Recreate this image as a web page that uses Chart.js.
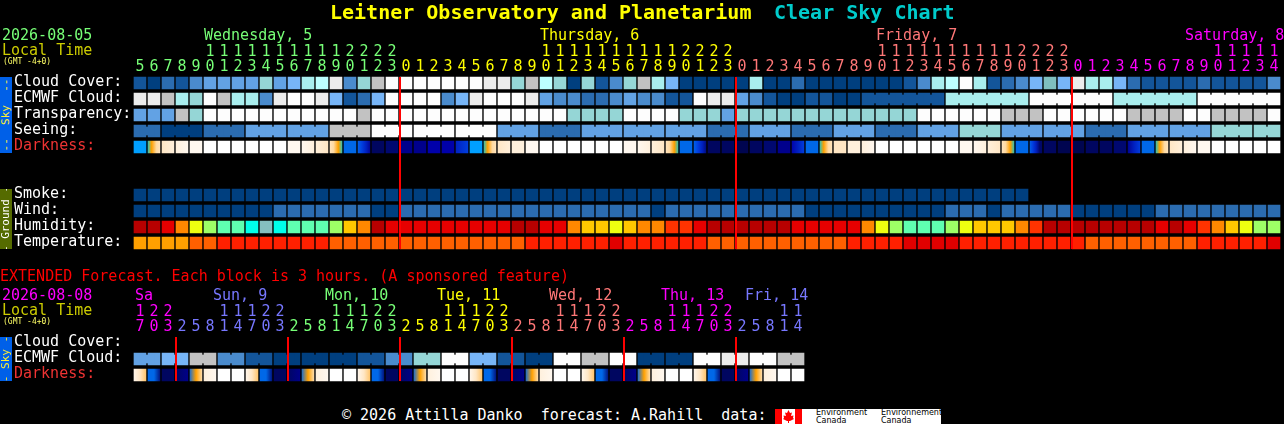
<!DOCTYPE html>
<html>
<head>
<meta charset="utf-8">
<title>Clear Sky Chart</title>
<script src="https://cdn.jsdelivr.net/npm/chart.js@4"></script>
<style>
  html, body { margin: 0; padding: 0; background: #000; overflow: hidden; }
  body { width: 1284px; height: 424px; position: relative; font-family: "DejaVu Sans Mono", monospace; }
  canvas { position: absolute; left: 0; }
  .txt { position: absolute; white-space: pre; font-size: 15px; line-height: 16px; z-index: 2; }
  .side { position: absolute; left: 0; width: 12px; z-index: 2; overflow: hidden; }
  .side span { position: absolute; left: 50%; top: 50%; transform: translate(-50%, -50%) rotate(-90deg); white-space: pre; font-size: 11px; line-height: 12px; }
  #logo { position: absolute; left: 775px; top: 409px; width: 166px; height: 15px; background: #fff; overflow: hidden; z-index: 2; }
  #logo svg { position: absolute; left: 0; top: 0; }
  #logo b { position: absolute; color: #000; font: 8px/7px "DejaVu Sans", sans-serif; white-space: pre; }
</style>
</head>
<body>
<canvas id="hourly" width="1284" height="256" style="top:0"></canvas>
<canvas id="extended" width="1284" height="128" style="top:260px"></canvas>
<div id="logo">
  <svg width="27" height="15"><rect width="7" height="15" fill="#f00"/><rect x="20" width="7" height="15" fill="#f00"/><polygon points="13.5,1 15,4 17,3.5 16,7 18.5,6.5 18,9 19,10 15,12 14,12 14,14 13,14 13,12 12,12 8,10 9,9 8.5,6.5 11,7 10,3.5 12,4" fill="#f00"/></svg>
  <b style="left:41px;top:0">Environment</b><b style="left:41px;top:8px">Canada</b>
  <b style="left:106px;top:0">Environnement</b><b style="left:106px;top:8px">Canada</b>
</div>
<script>
// hourly forecast
const hours = [5,6,7,8,9,10,11,12,13,14,15,16,17,18,19,20,21,22,23,
  0,1,2,3,4,5,6,7,8,9,10,11,12,13,14,15,16,17,18,19,20,21,22,23,
  0,1,2,3,4,5,6,7,8,9,10,11,12,13,14,15,16,17,18,19,20,21,22,23,
  0,1,2,3,4,5,6,7,8,9,10,11,12,13,14].slice(0, 82);
const hourlyRows = ["Cloud Cover:", "ECMWF Cloud:", "Transparency:", "Seeing:", "Darkness:", " ", "  ", "Smoke:", "Wind:", "Humidity:", "Temperature:"];

const cloudCover = [1,0,2,1,3,4,4,4,4,6,4,5,7,8,9,3,6,10,11,11,11,
  11,11,11,11,9,9,6,10,8,6,0,6,1,3,6,10,7,5,0,0,0,0,0,7,0,0,2,0,0,0,0,
  0,0,0,1,3,7,8,11,7,1,2,3,5,12,5,9,7,7,5,2,1,1,1,1,2,1,1,1,1,3];
const ecmwfCloud = [9,9,10,7,6,11,10,7,7,3,9,11,11,9,5,1,2,5,11,11,11,
  11,3,5,9,11,11,11,9,4,3,3,2,2,3,4,3,3,1,1,11,9,9,4,3,1,0,0,1,1,0,0,
  1,1,1,1,1,1,7,7,7,7,7,7,11,11,11,11,11,11,7,7,7,7,7,7,11,11,11,11,11,11];
const transparency = [4,4,4,10,6,11,11,11,11,11,11,11,11,11,11,11,10,11,11,11,11,
  11,11,11,11,11,11,11,11,11,11,6,6,6,6,11,11,11,11,6,6,6,4,6,6,6,6,6,6,6,6,6,
  6,6,6,6,11,11,11,11,11,11,10,10,10,11,11,11,11,11,11,10,10,10,10,11,11,10,10,10,10,11];
const seeing = [2,2,0,0,0,2,2,2,4,4,4,4,4,4,10,10,10,11,11,11,11,
  11,11,11,11,11,4,4,4,2,2,2,4,4,4,4,4,4,4,4,4,2,2,2,4,4,4,2,2,2,4,4,
  4,2,2,2,4,4,4,6,6,6,4,4,4,4,4,4,2,2,2,4,4,4,4,4,4,6,6,6,6,6];
// darkness: one ramp level for a flat block, a list of levels when the sky changes inside the block
const darkness = [8,[9,10,12,13],[13,14],[14,15],15,16,16,16,16,16,16,15,[15,14],[14,13],[13,12,10,9],7,[7,6,5,3],1,2,3,3,
  4,4,[5,6],8,[9,10,12,13],[13,14],14,15,16,16,16,16,16,16,15,[15,14],[14,13],[13,12,10,9],7,[7,6,5,2],1,1,0,1,2,3,[4,5,6],7,[9,10,12,13],13,14,
  [14,15],16,16,16,16,16,16,15,[15,14],[14,13],[13,12,10,9],7,[7,6,5,2,1],1,0,0,1,1,2,[3,5,6],7,[9,10,12,13],[13,14],[14,15],15,16,16,16,16,16];
const smoke = [0,0,0,0,0,0,0,0,0,0,0,0,0,0,0,0,0,0,0,0,0,0,0,0,0,0,0,0,0,0,0,0,
  0,0,0,0,0,0,0,0,0,0,0,0,0,0,0,0,0,0,0,0,0,0,0,0,0,0,0,0,0,0,0,0];
const wind = [0,0,0,0,0,0,0,0,0,0,2,2,2,2,2,2,2,0,0,2,2,
  2,2,2,2,2,2,2,2,2,2,2,2,2,2,2,2,0,2,2,2,2,2,2,2,2,2,2,0,0,0,0,
  0,0,0,0,0,0,2,2,2,0,2,2,2,2,2,0,0,0,0,0,0,2,2,2,2,2,2,2,2,2];
const humidity = [0,0,1,3,5,6,7,7,8,9,8,7,7,7,6,4,3,0,1,1,1,
  1,1,1,1,1,1,0,0,1,1,3,4,4,5,4,3,3,2,2,1,0,0,0,0,0,0,1,1,1,1,1,
  3,5,6,7,7,7,6,5,4,4,4,3,2,0,0,0,0,0,0,0,0,1,0,1,2,3,4,5,6,6];
const temperature = [0,0,0,0,1,1,2,2,2,2,2,2,2,2,1,1,1,1,1,1,1,
  1,1,1,1,1,1,1,2,2,2,2,2,2,3,2,2,2,2,2,2,1,1,1,1,1,1,1,1,1,1,2,
  2,2,2,3,3,3,3,2,2,2,2,2,2,2,2,2,1,1,1,1,1,1,1,1,2,2,2,2,2,3];

// extended forecast, 3 hours per block
const extHours = [17,20,23,2,5,8,11,14,17,20,23,2,5,8,11,14,17,20,23,2,5,8,11,14,
  17,20,23,2,5,8,11,14,17,20,23,2,5,8,11,14,17,20,23,2,5,8,11,14];
const extRows = ["Cloud Cover:", "ECMWF Cloud:", "Darkness:"];
const extEcmwf = [4,4,5,5,10,10,3,3,1,1,0,0,0,0,0,0,1,1,3,3,6,6,11,11,
  5,5,1,1,0,0,11,11,10,10,11,11,0,0,0,0,11,11,9,9,11,11,10,10];
const extDarkness = [[15,13,11],[7,7,2],1,[1,3],[7,10,13],[14,15],16,16,
  [15,13,11],[7,7,2],1,[1,3],[7,10,13],[14,15],16,16,
  [15,13,11],[7,7,2],1,[1,3],[7,10,13],[14,15],16,16,
  [15,13,11],[7,7,2],1,[1,3],[7,10,13],[14,15],16,16,
  [15,13,11],[7,7,2],1,[1,3],[7,10,13],[14,15],16,16,
  [15,13,11],[7,7,2],1,[1,3],[7,10,13],[14,15],16,16];

const hourlyDays = ["Wednesday, 5", "Thursday, 6", "Friday, 7", "Saturday, 8"];
const extDays = ["Sa", "Sun, 9", "Mon, 10", "Tue, 11", "Wed, 12", "Thu, 13", "Fri, 14"];

const GREEN = "#77ff77", YELLOW = "#ffff00", SALMON = "#ff7777", MAGENTA = "#ff00ff", PERI = "#7777ff";

// colour scales
const skyColors = ["#003f7f","#13559a","#2b6cb0","#4a8bcd","#62a2e4","#77b5f7","#95d6d6","#a9eeee","#bdffff","#ececec","#c2c2c2","#fdfdfd","#7fbfbf"];
const darkColors = ["#000550","#000660","#000870","#00008c","#0000aa","#0020c0","#0040e0","#0068e8","#009fff","#00c8e0","#ffa000","#ffc060","#ffd9a0","#ffe6c4","#fff0dc","#fff8f0","#ffffff"];
const humColors = ["#b80000","#e60000","#ff3300","#ff8800","#ffc800","#eeff10","#9eff66","#5fffb0","#00ffea","#85bfc0"];
const tempColors = ["#ffa000","#ff6000","#ff2000","#e00000"];

function cells(row, values, palette) {
  return {
    data: values.map((v, i) => ({ x: [i, i + 1], y: row })),
    backgroundColor: (ctx) => {
      const v = values[ctx.dataIndex];
      if (v === undefined) return "#000";
      if (!Array.isArray(v)) return palette[v];
      // several levels inside one block
      const xs = ctx.chart.scales.x;
      const x0 = xs.getPixelForValue(ctx.dataIndex);
      const x1 = xs.getPixelForValue(ctx.dataIndex + 1);
      if (!isFinite(x0) || !isFinite(x1)) return palette[v[0]]; // scale not laid out yet
      const g = ctx.chart.ctx.createLinearGradient(x0, 0, x1, 0);
      v.forEach((lvl, k) => g.addColorStop(k / (v.length - 1), palette[lvl]));
      return g;
    },
    borderColor: "#000",
    borderWidth: 1,
    borderSkipped: false,
    barThickness: 14,
    grouped: false,
    order: 1,
  };
}

// small bridge between blocks that belong to the same forecast period
function joins(row, values, palette, groupOf) {
  const idx = [];
  values.forEach((v, i) => {
    if (i + 1 < values.length && groupOf(i) !== null && groupOf(i) === groupOf(i + 1)) idx.push(i);
  });
  return {
    data: idx.map((i) => ({ x: [i + 0.5, i + 1.5], y: row })),
    backgroundColor: idx.map((i) => palette[values[i]]),
    borderWidth: 0,
    barThickness: 8,
    grouped: false,
    order: 0,
  };
}

// red line on the left edge of the first block of each day
function midnights(hourList, rowCount) {
  const out = [];
  hourList.forEach((h, i) => {
    if (i > 0 && h < hourList[i - 1]) {
      const x = i + 1 / 14;
      out.push({
        type: "line",
        data: [{ x, y: 0.125 }, { x, y: rowCount - 0.125 }],
        yAxisID: "rowSpan",
        borderColor: "#f00",
        borderWidth: 2,
        pointRadius: 0,
        order: -1,
      });
    }
  });
  return out;
}

function dayColors(hourList, colors) {
  let d = 0;
  return hourList.map((h, i) => {
    if (i > 0 && h < hourList[i - 1]) d++;
    return colors[d];
  });
}

// the outer labels must not push the block area inwards
function noLabelMargins(scale) {
  scale.paddingTop = 0;
  scale.paddingBottom = 0;
  scale.paddingLeft = 0;
  scale.paddingRight = 0;
}

function buildChart(id, hourList, rows, datasets, colors, rowColor) {
  new Chart(document.getElementById(id), {
    type: "bar",
    data: { datasets },
    options: {
      indexAxis: "y",
      responsive: false,
      animation: false,
      devicePixelRatio: 1,
      events: [],
      layout: { padding: { left: 14, right: 1284 - 133 - hourList.length * 14, top: 0, bottom: 5 } },
      plugins: { legend: { display: false }, tooltip: { enabled: false } },
      scales: {
        x: {
          type: "linear",
          position: "top",
          min: 0,
          max: hourList.length,
          grid: { display: false, drawTicks: false },
          border: { display: false },
          afterBuildTicks: (scale) => { scale.ticks = hourList.map((h, i) => ({ value: i + 0.5 })); },
          afterFit: (scale) => { scale.height = 75; noLabelMargins(scale); },
          ticks: {
            autoSkip: false,
            maxRotation: 0,
            minRotation: 0,
            padding: 0,
            color: (ctx) => colors[ctx.index],
            font: { family: "DejaVu Sans Mono", size: 15, lineHeight: "15px" },
            callback: (v, i) => {
              const h = hourList[i];
              return [h >= 10 ? String(Math.floor(h / 10)) : " ", String(h % 10)];
            },
          },
        },
        y: {
          type: "category",
          labels: rows,
          offset: true,
          grid: { display: false, drawTicks: false },
          border: { display: false },
          afterFit: (scale) => { scale.width = 119; noLabelMargins(scale); },
          ticks: {
            autoSkip: false,
            crossAlign: "far",
            padding: 0,
            labelOffset: -1,
            color: (ctx) => rowColor(rows[ctx.index]),
            font: { family: "DejaVu Sans Mono", size: 15 },
          },
        },
        rowSpan: { axis: "y", type: "linear", display: false, reverse: true, offset: false, min: 0, max: rows.length },
      },
    },
  });
}

const rowColor = (name) => (name === "Darkness:" ? "#ee3333" : "#fff");
const threeHourly = (i) => Math.floor((i + 1) / 3);
const ecmwfGroup = (i) => (i < 52 ? null : Math.floor((i - 52) / 6));
const pairs = (i) => Math.floor(i / 2);

buildChart("hourly", hours, hourlyRows, [
  ...midnights(hours, hourlyRows.length),
  joins("ECMWF Cloud:", ecmwfCloud, skyColors, ecmwfGroup),
  joins("Seeing:", seeing, skyColors, threeHourly),
  cells("Cloud Cover:", cloudCover, skyColors),
  cells("ECMWF Cloud:", ecmwfCloud, skyColors),
  cells("Transparency:", transparency, skyColors),
  cells("Seeing:", seeing, skyColors),
  cells("Darkness:", darkness, darkColors),
  cells("Smoke:", smoke, skyColors),
  cells("Wind:", wind, skyColors),
  cells("Humidity:", humidity, humColors),
  cells("Temperature:", temperature, tempColors),
], dayColors(hours, [GREEN, YELLOW, SALMON, MAGENTA]), rowColor);

buildChart("extended", extHours, extRows, [
  ...midnights(extHours, extRows.length),
  joins("ECMWF Cloud:", extEcmwf, skyColors, pairs),
  cells("ECMWF Cloud:", extEcmwf, skyColors),
  cells("Darkness:", extDarkness, darkColors),
], dayColors(extHours, [MAGENTA, PERI, GREEN, YELLOW, SALMON, MAGENTA, PERI]), rowColor);

// header text
function text(str, left, centerY, color, size, bold) {
  const el = document.createElement("div");
  el.className = "txt";
  el.textContent = str;
  el.style.left = left + "px";
  el.style.top = centerY - 8 + "px";
  el.style.color = color;
  if (size) el.style.fontSize = size + "px";
  if (bold) el.style.fontWeight = "bold";
  document.body.appendChild(el);
}

function sideBar(label, top, height, bg, color) {
  const el = document.createElement("div");
  el.className = "side";
  el.style.top = top + "px";
  el.style.height = height + "px";
  el.style.background = bg;
  const s = document.createElement("span");
  s.textContent = label;
  s.style.color = color;
  el.appendChild(s);
  document.body.appendChild(el);
}

text("Leitner Observatory and Planetarium", 330, 12, YELLOW, 20, true);
text("Clear Sky Chart", 774, 12, "#00cccc", 20, true);

text("2026-08-05", 2, 35, GREEN);
text("Local Time", 2, 50, "#cccc00");
text("(GMT -4+0)", 3, 62, "#ffff66", 8);
[204, 540, 876, 1185].forEach((x, i) => text(hourlyDays[i], x, 35, [GREEN, YELLOW, SALMON, MAGENTA][i]));

text("EXTENDED Forecast. Each block is 3 hours. (A sponsored feature)", 0, 276, "#ff0000");
text("2026-08-08", 2, 295, MAGENTA);
text("Local Time", 2, 310, "#cccc00");
text("(GMT -4+0)", 3, 322, "#ffff66", 8);
[135, 213, 325, 437, 549, 661, 745].forEach((x, i) => text(extDays[i], x, 295, [MAGENTA, PERI, GREEN, YELLOW, SALMON, MAGENTA, PERI][i]));

text("\u00a9 2026 Attilla Danko  forecast: A.Rahill  data:", 342, 415, "#fff");

sideBar("--  Sky  --", 77, 76, "#0060e8", "#ffee33");
sideBar("- Ground -", 189, 60, "#556b00", "#fff");
sideBar("- Sky -", 337, 44, "#0060e8", "#ffee33");
</script>
</body>
</html>
